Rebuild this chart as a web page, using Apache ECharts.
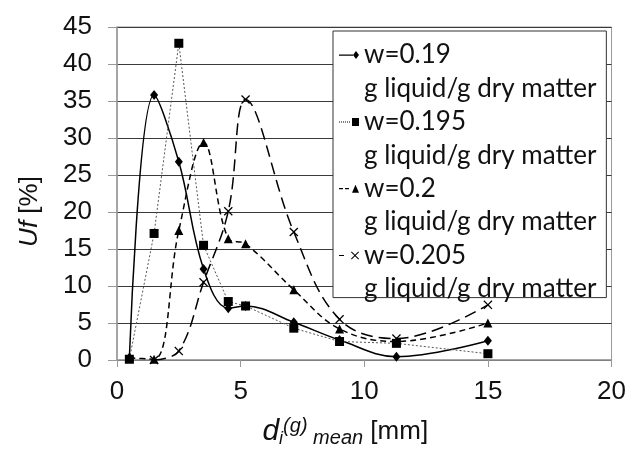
<!DOCTYPE html>
<html><head><meta charset="utf-8">
<script src="https://cdn.jsdelivr.net/npm/echarts@6/dist/echarts.min.js"></script>
<style>html,body{margin:0;padding:0;background:#fff}#c{width:629px;height:453px}</style>
</head><body><div id="c"></div>
<script>
const xValues = [0.5, 1.5, 2.5, 3.5, 4.5, 5.2, 7.15, 9, 11.3, 15];
const seriesNames = ['w=0.19', 'w=0.195', 'w=0.2', 'w=0.205'];
const legendSub = 'g liquid/g dry matter';
const w019 = [0.3, 35.8, 26.8, 12.3, 7.0, 7.3, 5.1, 2.7, 0.45, 2.6];
const w0195 = [0.1, 17.1, 42.8, 15.5, 7.9, 7.3, 4.3, 2.5, 2.25, 0.85];
const w02 = [0.3, 0.1, 17.5, 29.4, 16.4, 15.7, 9.5, 4.2, 2.5, 5.0];
const w0205 = [null, 0.0, 1.2, 10.5, 20.1, 35.2, 17.3, 5.5, 2.9, 7.45];
const yTicks = { min: 0, max: 45, interval: 5 };
const xTicks = { min: 0, max: 20, interval: 5 };

function pairs(ys) { return xValues.map((x, i) => [x, ys[i]]); }
const crossPath = 'path://M0,1L1,0L5,4L9,0L10,1L6,5L10,9L9,10L5,6L1,10L0,9L4,5Z';

// legend icons (line sample + marker at the right end)
const iconDiamond = 'path://M0,3.4L14,3.4L14,4.6L0,4.6Z M14,4L17,0L20,4L17,8Z';
const iconSquare = 'path://M0,3.5L1,3.5L1,4.5L0,4.5Z M2,3.5L3,3.5L3,4.5L2,4.5Z M4,3.5L5,3.5L5,4.5L4,4.5Z M6,3.5L7,3.5L7,4.5L6,4.5Z M8,3.5L9,3.5L9,4.5L8,4.5Z M10,3.5L11,3.5L11,4.5L10,4.5Z M13,0L20,0L20,8L13,8Z';
const iconTriangle = 'path://M0,3.4L4,3.4L4,4.6L0,4.6Z M6,3.4L10,3.4L10,4.6L6,4.6Z M16.5,0L20,8L13,8Z';
const iconCross = 'path://M0,3.4L5,3.4L5,4.6L0,4.6Z M12,0.7L12.7,0L16,3.3L19.3,0L20,0.7L16.7,4L20,7.3L19.3,8L16,4.7L12.7,8L12,7.3L15.3,4Z';
const legendIcons = [iconDiamond, iconSquare, iconTriangle, iconCross];

const AR = "'Liberation Sans', Arial, sans-serif";
const chart = echarts.init(document.getElementById('c'), null, { renderer: 'canvas' });
const lab = { fontFamily: AR, fontSize: 26, color: '#111' };
chart.setOption({
  animation: false,
  backgroundColor: '#fff',
  grid: { left: 117, right: 16, top: 27, bottom: 92, show: true, borderColor: '#999', borderWidth: 1 },
  xAxis: {
    type: 'value', min: xTicks.min, max: xTicks.max, interval: xTicks.interval,
    axisLine: { lineStyle: { color: '#999', width: 1.5 } },
    axisTick: { show: true, length: 7, lineStyle: { color: '#999' } },
    splitLine: { show: false },
    axisLabel: Object.assign({ margin: 19 }, lab),
    name: '{d|d}{sub|i}{sup|(g)}{mean| mean}{n| [mm]}',
    nameLocation: 'middle', nameGap: 56,
    nameTextStyle: {
      padding: [0, 38, 0, 0],
      rich: {
        d: { fontFamily: AR, fontStyle: 'italic', fontSize: 30, color: '#111' },
        sub: { fontFamily: AR, fontStyle: 'italic', fontSize: 18, color: '#111', padding: [14, 0, 0, 0] },
        sup: { fontFamily: AR, fontStyle: 'italic', fontSize: 20, color: '#111', padding: [0, 0, 12, 0] },
        mean: { fontFamily: AR, fontStyle: 'italic', fontSize: 20, color: '#111', padding: [12, 0, 0, 0] },
        n: { fontFamily: AR, fontSize: 26, color: '#111' }
      }
    }
  },
  yAxis: {
    type: 'value', min: yTicks.min, max: yTicks.max, interval: yTicks.interval,
    axisLine: { show: true, lineStyle: { color: '#999', width: 1.5 } },
    axisTick: { show: true, length: 9, lineStyle: { color: '#999' } },
    splitLine: { show: true, lineStyle: { color: '#3a3a3a', width: 1 } },
    axisLabel: Object.assign({ margin: 25 }, lab),
    name: '{i|Uf}{n| [%]}',
    nameLocation: 'middle', nameRotate: 90, nameGap: 74,
    nameTextStyle: {
      padding: [0, 36, 0, 0],
      rich: {
        i: { fontFamily: AR, fontStyle: 'italic', fontSize: 26, color: '#111' },
        n: { fontFamily: AR, fontSize: 26, color: '#111' }
      }
    }
  },
  legend: {
    orient: 'vertical', left: 333, top: 31,
    data: seriesNames.map((n, i) => ({ name: n, icon: legendIcons[i] })),
    itemWidth: 20, itemHeight: 8, itemGap: -33.4,
    itemStyle: { borderWidth: 0 },
    backgroundColor: '#fff', borderColor: '#333', borderWidth: 1,
    padding: [-26, 10, -8, 6],
    formatter: function (n) { return ' \n' + n + '\n' + legendSub; },
    textStyle: { fontFamily: 'Lato, sans-serif', fontSize: 26, color: '#111', lineHeight: 33.4 }
  },
  series: [
    { name: seriesNames[0], type: 'line', data: pairs(w019), smooth: 0.38, symbol: 'diamond', symbolSize: [8, 10],
      lineStyle: { color: '#000', width: 1.5, type: 'solid' }, itemStyle: { color: '#000' } },
    { name: seriesNames[1], type: 'line', data: pairs(w0195), smooth: false, symbol: 'rect', symbolSize: 9,
      lineStyle: { color: '#555', width: 1, type: [2, 2] }, itemStyle: { color: '#000' } },
    { name: seriesNames[2], type: 'line', data: pairs(w02), smooth: 0.38, symbol: 'triangle', symbolSize: 9,
      lineStyle: { color: '#000', width: 1.5, type: [6, 4] }, itemStyle: { color: '#000' } },
    { name: seriesNames[3], type: 'line', data: pairs(w0205), smooth: 0.38, symbol: crossPath, symbolSize: 9,
      lineStyle: { color: '#000', width: 1.5, type: [12, 6] }, itemStyle: { color: '#000' } }
  ]
});
</script></body></html>
